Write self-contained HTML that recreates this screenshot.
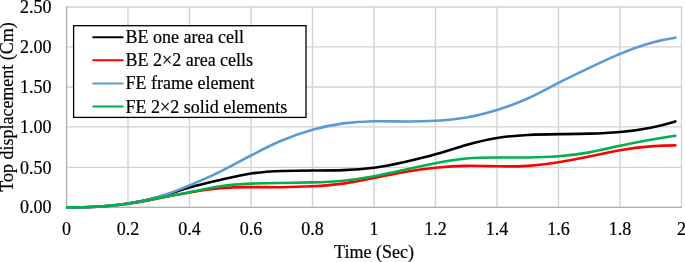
<!DOCTYPE html>
<html><head><meta charset="utf-8"><title>Top displacement chart</title>
<style>
html,body{margin:0;padding:0;background:#fff;}
body{width:685px;height:262px;overflow:hidden;}
svg{display:block;}
svg text{font-family:"Liberation Serif","Times New Roman",serif;font-size:18px;fill:#000;stroke:#000;stroke-width:0.2px;}
</style></head><body>
<svg width="685" height="262" viewBox="0 0 685 262">
<defs><clipPath id="pc"><rect x="66" y="0" width="619" height="262"/></clipPath></defs>
<rect x="0" y="0" width="685" height="262" fill="#fff"/>
<g stroke="#d2d2d2" stroke-width="1.35" fill="none"><line x1="66.50" y1="6.5" x2="66.50" y2="207.5"/><line x1="128.00" y1="6.5" x2="128.00" y2="207.5"/><line x1="189.50" y1="6.5" x2="189.50" y2="207.5"/><line x1="251.00" y1="6.5" x2="251.00" y2="207.5"/><line x1="312.50" y1="6.5" x2="312.50" y2="207.5"/><line x1="374.00" y1="6.5" x2="374.00" y2="207.5"/><line x1="435.50" y1="6.5" x2="435.50" y2="207.5"/><line x1="497.00" y1="6.5" x2="497.00" y2="207.5"/><line x1="558.50" y1="6.5" x2="558.50" y2="207.5"/><line x1="620.00" y1="6.5" x2="620.00" y2="207.5"/><line x1="681.50" y1="6.5" x2="681.50" y2="207.5"/><line x1="66" y1="7.00" x2="682" y2="7.00"/><line x1="66" y1="46.90" x2="682" y2="46.90"/><line x1="66" y1="87.00" x2="682" y2="87.00"/><line x1="66" y1="126.90" x2="682" y2="126.90"/><line x1="66" y1="167.40" x2="682" y2="167.40"/><line x1="66" y1="207.35" x2="682" y2="207.35"/></g>
<g stroke="#b0b0b0" stroke-width="1.2" fill="none"><line x1="66.6" y1="6.4" x2="66.6" y2="207.5"/><line x1="66" y1="207.35" x2="682" y2="207.35"/></g>
<g fill="none" stroke-width="2.6" stroke-linecap="round" stroke-linejoin="round" clip-path="url(#pc)">
<path stroke="#000000" d="M66.50 207.35 C76.75 207.35 87.00 207.25 97.25 206.71 C107.50 206.17 117.75 205.18 128.00 203.59 C138.25 202.00 148.50 199.82 158.75 196.95 C169.00 194.08 179.25 190.53 189.50 187.59 C199.75 184.65 210.00 182.31 220.25 179.91 C230.50 177.51 240.75 175.06 251.00 173.51 C261.25 171.96 271.50 171.32 281.75 170.95 C292.00 170.58 302.25 170.49 312.50 170.47 C322.75 170.45 333.00 170.49 343.25 170.15 C353.50 169.81 363.75 169.07 374.00 167.67 C384.25 166.27 394.50 164.19 404.75 161.91 C415.00 159.63 425.25 157.15 435.50 154.23 C445.75 151.31 456.00 147.94 466.25 145.03 C476.50 142.12 486.75 139.65 497.00 137.99 C507.25 136.33 517.50 135.46 527.75 134.95 C538.00 134.44 548.25 134.27 558.50 134.15 C568.75 134.03 579.00 133.95 589.25 133.67 C599.50 133.39 609.75 132.91 620.00 131.99 C630.25 131.07 640.50 129.70 650.75 127.67 C658.95 126.05 667.15 124.00 675.35 121.43"/>
<path stroke="#ff0000" d="M66.50 207.35 C76.75 207.35 87.00 207.24 97.25 206.71 C107.50 206.18 117.75 205.24 128.00 203.75 C138.25 202.26 148.50 200.21 158.75 198.23 C169.00 196.25 179.25 194.33 189.50 192.55 C199.75 190.77 210.00 189.14 220.25 188.23 C230.50 187.32 240.75 187.13 251.00 187.11 C261.25 187.09 271.50 187.25 281.75 187.19 C292.00 187.13 302.25 186.84 312.50 186.31 C322.75 185.78 333.00 185.02 343.25 183.59 C353.50 182.16 363.75 180.07 374.00 177.99 C384.25 175.91 394.50 173.84 404.75 172.07 C415.00 170.30 425.25 168.83 435.50 167.75 C445.75 166.67 456.00 165.97 466.25 165.83 C476.50 165.69 486.75 166.11 497.00 166.31 C507.25 166.51 517.50 166.49 527.75 165.83 C538.00 165.17 548.25 163.85 558.50 162.23 C568.75 160.61 579.00 158.67 589.25 156.55 C599.50 154.43 609.75 152.12 620.00 150.31 C630.25 148.50 640.50 147.21 650.75 146.39 C658.95 145.74 667.15 145.39 675.35 145.35"/>
<path stroke="#5b9bd5" d="M66.50 207.35 C76.75 207.35 87.00 207.26 97.25 206.71 C107.50 206.16 117.75 205.14 128.00 203.59 C138.25 202.04 148.50 199.97 158.75 196.87 C169.00 193.77 179.25 189.64 189.50 185.35 C199.75 181.06 210.00 176.63 220.25 171.59 C230.50 166.55 240.75 160.92 251.00 155.51 C261.25 150.10 271.50 144.92 281.75 140.55 C292.00 136.18 302.25 132.61 312.50 129.75 C322.75 126.89 333.00 124.72 343.25 123.35 C353.50 121.98 363.75 121.40 374.00 121.27 C384.25 121.14 394.50 121.45 404.75 121.51 C415.00 121.57 425.25 121.38 435.50 120.79 C445.75 120.20 456.00 119.23 466.25 117.43 C476.50 115.63 486.75 113.02 497.00 109.91 C507.25 106.80 517.50 103.19 527.75 98.55 C538.00 93.91 548.25 88.23 558.50 82.95 C568.75 77.67 579.00 72.78 589.25 67.91 C599.50 63.04 609.75 58.20 620.00 53.91 C630.25 49.62 640.50 45.87 650.75 42.95 C658.95 40.61 667.15 38.81 675.35 37.67"/>
<path stroke="#00b050" d="M66.50 207.35 C76.75 207.35 87.00 207.23 97.25 206.71 C107.50 206.19 117.75 205.28 128.00 203.75 C138.25 202.22 148.50 200.07 158.75 198.07 C169.00 196.07 179.25 194.23 189.50 192.15 C199.75 190.07 210.00 187.75 220.25 186.23 C230.50 184.71 240.75 184.00 251.00 183.59 C261.25 183.18 271.50 183.08 281.75 182.95 C292.00 182.82 302.25 182.67 312.50 182.39 C322.75 182.11 333.00 181.70 343.25 180.71 C353.50 179.72 363.75 178.16 374.00 176.23 C384.25 174.30 394.50 172.01 404.75 169.75 C415.00 167.49 425.25 165.27 435.50 163.27 C445.75 161.27 456.00 159.49 466.25 158.55 C476.50 157.61 486.75 157.51 497.00 157.51 C507.25 157.51 517.50 157.61 527.75 157.51 C538.00 157.41 548.25 157.09 558.50 156.31 C568.75 155.53 579.00 154.27 589.25 152.39 C599.50 150.51 609.75 147.99 620.00 145.75 C630.25 143.51 640.50 141.54 650.75 139.75 C658.95 138.32 667.15 137.00 675.35 135.75"/>
</g>
<g><text x="51.5" y="13.1" text-anchor="end">2.50</text><text x="51.5" y="53.0" text-anchor="end">2.00</text><text x="51.5" y="93.1" text-anchor="end">1.50</text><text x="51.5" y="133.0" text-anchor="end">1.00</text><text x="51.5" y="173.5" text-anchor="end">0.50</text><text x="51.5" y="213.4" text-anchor="end">0.00</text></g>
<g><text x="66.50" y="235.1" text-anchor="middle">0</text><text x="128.00" y="235.1" text-anchor="middle">0.2</text><text x="189.50" y="235.1" text-anchor="middle">0.4</text><text x="251.00" y="235.1" text-anchor="middle">0.6</text><text x="312.50" y="235.1" text-anchor="middle">0.8</text><text x="374.00" y="235.1" text-anchor="middle">1</text><text x="435.50" y="235.1" text-anchor="middle">1.2</text><text x="497.00" y="235.1" text-anchor="middle">1.4</text><text x="558.50" y="235.1" text-anchor="middle">1.6</text><text x="620.00" y="235.1" text-anchor="middle">1.8</text><text x="681.50" y="235.1" text-anchor="middle">2</text></g>
<text x="374" y="258.3" text-anchor="middle">Time (Sec)</text>
<text transform="translate(12.9,107) rotate(-90)" text-anchor="middle">Top displacement (Cm)</text>
<rect x="73.6" y="25.7" width="232.4" height="91.7" fill="#fff" stroke="#000" stroke-width="1.3"/>
<g stroke-width="2" fill="none" stroke-linecap="round">
<line x1="93.2" y1="37.3" x2="122.7" y2="37.3" stroke="#000"/>
<line x1="93.2" y1="60.2" x2="122.7" y2="60.2" stroke="#ff0000"/>
<line x1="93.2" y1="83.5" x2="122.7" y2="83.5" stroke="#5b9bd5"/>
<line x1="93.2" y1="106.5" x2="122.7" y2="106.5" stroke="#00b050"/>
</g>
<text x="125.5" y="43.3">BE one area cell</text>
<text x="125.5" y="66.2">BE 2×2 area cells</text>
<text x="125.5" y="89.2">FE frame element</text>
<text x="125.5" y="112.5">FE 2×2 solid elements</text>
</svg>
</body></html>
